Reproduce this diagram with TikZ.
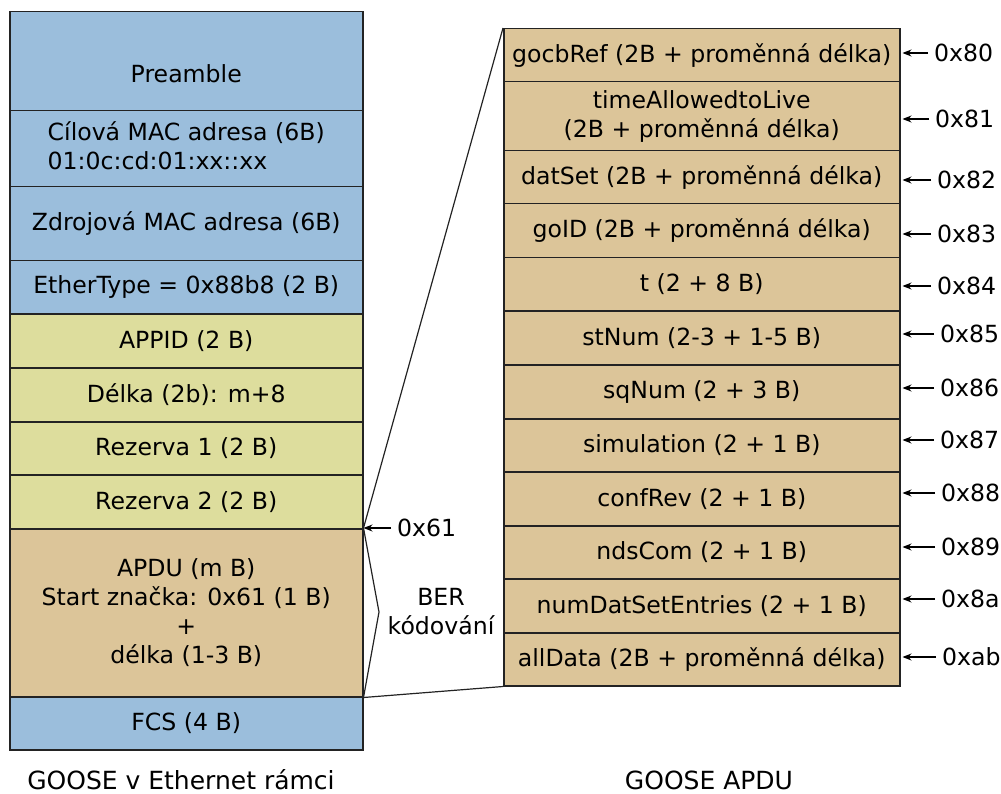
\documentclass[tikz,border=0pt]{standalone}
\usepackage{fontspec}
\setmainfont{DejaVu Sans}
\usetikzlibrary{arrows.meta}
\definecolor{ethblue}{RGB}{155,190,220}
\definecolor{hdrgreen}{RGB}{221,221,157}
\definecolor{apdutan}{RGB}{220,197,153}
\definecolor{edge}{RGB}{35,35,35}

\begin{document}
\begin{tikzpicture}[x=1pt,y=-1pt,
  every node/.style={font=\fontsize{23.6}{29}\selectfont, inner sep=0pt},
  field/.style={draw=edge, line width=1.5pt, align=center, anchor=north west},
  lfield/.style={field, minimum width=353pt},
  rfield/.style={field, fill=apdutan, minimum width=396pt},
  hexlabel/.style={anchor=west},
  ptr/.style={-{Stealth[length=9pt,width=7pt]}, line width=1.1pt, black},
  link/.style={line width=1.2pt, edge},
  caption/.style={font=\fontsize{25}{30}\selectfont}
]
\useasboundingbox (0,0) rectangle (1001,794);

% Ethernet frame carrying GOOSE
\node[lfield, fill=ethblue,  minimum height=99pt]  (pre)   at (9,11)  {};
\node (pretext) at ([yshift=-12pt]pre.center) {Preamble};
\node[lfield, fill=ethblue,  minimum height=76pt]  (dst)   at (9,110) {\begin{tabular}{@{}l@{}}Cílová MAC adresa (6B)\\01:0c:cd:01:xx::xx\end{tabular}};
\node[lfield, fill=ethblue,  minimum height=74pt]  (src)   at (9,186) {Zdrojová MAC adresa (6B)};
\node[lfield, fill=ethblue,  minimum height=53pt]  (etype) at (9,260) {EtherType = 0x88b8 (2 B)};
\node[lfield, fill=hdrgreen, minimum height=54pt]  (appid) at (9,313) {APPID (2 B)};
\node[lfield, fill=hdrgreen, minimum height=54pt]  (len)   at (9,367) {Délka (2b): m+8};
\node[lfield, fill=hdrgreen, minimum height=53pt]  (res1)  at (9,421) {Rezerva 1 (2 B)};
\node[lfield, fill=hdrgreen, minimum height=54pt]  (res2)  at (9,474) {Rezerva 2 (2 B)};
\node[lfield, fill=apdutan,  minimum height=168pt] (apdu)  at (9,528) {APDU (m B)\\Start značka: 0x61 (1 B)\\+\\délka (1-3 B)};
\node[lfield, fill=ethblue,  minimum height=53pt]  (fcs)   at (9,696) {FCS (4 B)};

% GOOSE APDU fields
\node[rfield, minimum height=53pt] (gocb)   at (503,28)  {gocbRef (2B + proměnná délka)};
\node[rfield, minimum height=69pt] (tal)    at (503,81)  {timeAllowedtoLive\\(2B + proměnná délka)};
\node[rfield, minimum height=53pt] (dset)   at (503,150) {datSet (2B + proměnná délka)};
\node[rfield, minimum height=54pt] (goid)   at (503,203) {goID (2B + proměnná délka)};
\node[rfield, minimum height=53pt] (tfld)   at (503,257) {t (2 + 8 B)};
\node[rfield, minimum height=54pt] (stnum)  at (503,310) {stNum (2-3 + 1-5 B)};
\node[rfield, minimum height=54pt] (sqnum)  at (503,364) {sqNum (2 + 3 B)};
\node[rfield, minimum height=53pt] (sim)    at (503,418) {simulation (2 + 1 B)};
\node[rfield, minimum height=54pt] (conf)   at (503,471) {confRev (2 + 1 B)};
\node[rfield, minimum height=53pt] (nds)    at (503,525) {ndsCom (2 + 1 B)};
\node[rfield, minimum height=54pt] (numdse) at (503,578) {numDatSetEntries (2 + 1 B)};
\node[rfield, minimum height=53pt] (alld)   at (503,632) {allData (2B + proměnná délka)};

% expansion of the APDU
\coordinate (tip) at (379,612);
\draw[link] (apdu.north east) -- (gocb.north west);
\draw[link] (apdu.south east) -- (alld.south west);
\draw[link] (apdu.north east) -- (tip) -- (apdu.south east);
\node[align=center] (ber) at (441,612) {BER\\kódování};

% start tag of the APDU
\node[hexlabel] (h61) at (397,528) {0x61};
\draw[ptr] ([xshift=-6pt]h61.west) -- (apdu.north east);

% tags of the APDU fields
\node[hexlabel] (h80) at (934,53)  {0x80};
\node[hexlabel] (h81) at (935,119) {0x81};
\node[hexlabel] (h82) at (937,180) {0x82};
\node[hexlabel] (h83) at (937,234) {0x83};
\node[hexlabel] (h84) at (937,286) {0x84};
\node[hexlabel] (h85) at (940,334) {0x85};
\node[hexlabel] (h86) at (940,388) {0x86};
\node[hexlabel] (h87) at (940,440) {0x87};
\node[hexlabel] (h88) at (941,493) {0x88};
\node[hexlabel] (h89) at (941,547) {0x89};
\node[hexlabel] (h8a) at (941,599) {0x8a};
\node[hexlabel] (hab) at (942,657) {0xab};
\foreach \h/\f in {h80/gocb,h81/tal,h82/dset,h83/goid,h84/tfld,h85/stnum,h86/sqnum,h87/sim,h88/conf,h89/nds,h8a/numdse,hab/alld}
  \draw[ptr] ([xshift=-6pt]\h.west) -- ([xshift=2pt]\f.east |- \h.west);

% captions
\node[caption] (capeth)  at (181,780) {GOOSE v Ethernet rámci};
\node[caption] (capapdu) at (709,780) {GOOSE APDU};
\end{tikzpicture}
\end{document}
